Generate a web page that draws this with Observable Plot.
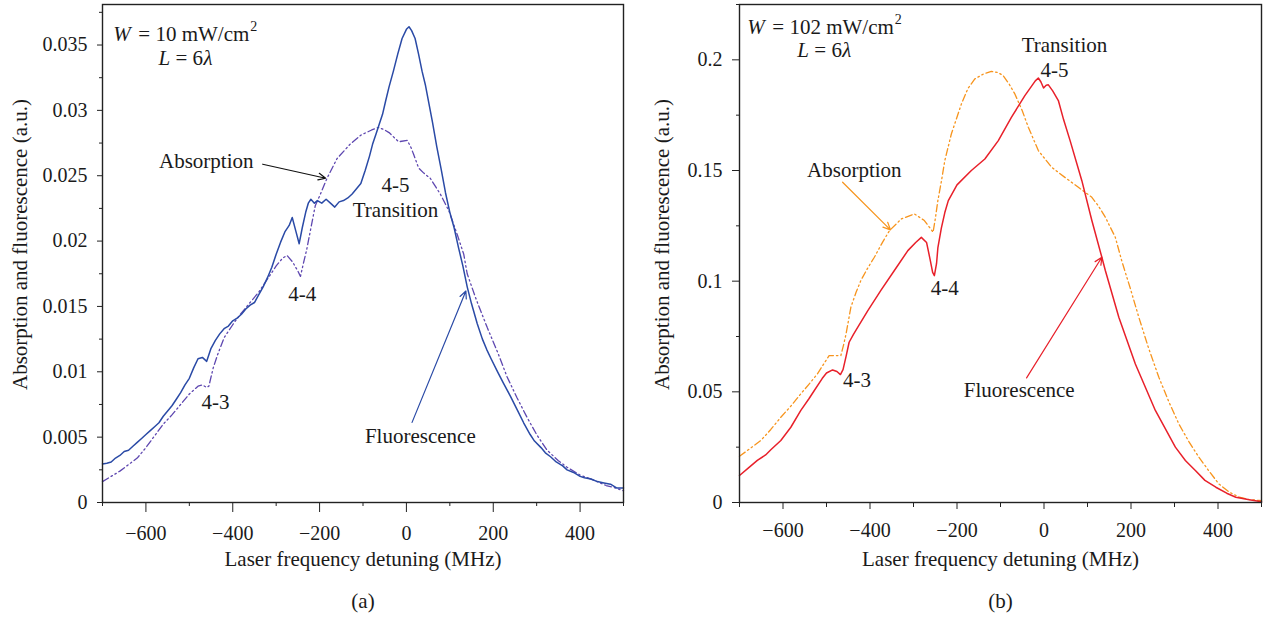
<!DOCTYPE html>
<html><head><meta charset="utf-8">
<script src="https://cdn.jsdelivr.net/npm/d3@7"></script>
<script src="https://cdn.jsdelivr.net/npm/@observablehq/plot@0.6"></script>
<style>
body{margin:0;background:#fff;}
#wrap{display:flex;width:1263px;height:619px;overflow:hidden;}
</style></head><body><div id="wrap"></div>
<script>
// ---------- Data: panel (a), W = 10 mW/cm2 ----------
const fluorA_x = [-700,-690,-680,-670,-660,-650,-640,-630,-620,-610,-600,-590,-580,-570,-560,-550,-540,-530,-520,-510,-500,-490,-480,-470,-460,-450,-440,-430,-420,-410,-400,-390,-380,-370,-360,-350,-340,-330,-320,-310,-300,-290,-280,-270,-263,-255,-247,-240,-232,-226,-220,-212,-205,-195,-185,-175,-165,-155,-145,-135,-125,-115,-105,-95,-85,-78,-70,-63,-55,-48,-40,-30,-20,-10,0,6,12,20,28,36,44,52,60,70,80,90,100,110,120,130,140,150,163,175,185,195,210,224,240,255,270,285,295,310,320,332,345,360,370,385,400,410,425,440,455,470,485,500];
const fluorA_y = [0.00295,0.0030,0.0031,0.0034,0.0036,0.0039,0.0040,0.0043,0.0046,0.0049,0.0052,0.0055,0.0058,0.0061,0.0066,0.0070,0.0074,0.0079,0.0084,0.0090,0.0095,0.0103,0.0110,0.0111,0.0108,0.0118,0.0124,0.0129,0.0133,0.0135,0.0139,0.0141,0.0144,0.0148,0.0151,0.0153,0.0159,0.0165,0.0172,0.0180,0.0190,0.0199,0.0207,0.0212,0.0218,0.0208,0.0198,0.0210,0.0222,0.0229,0.0232,0.0229,0.0231,0.0229,0.0232,0.0229,0.0226,0.0230,0.0231,0.0233,0.0236,0.0240,0.0244,0.0254,0.0265,0.0274,0.0282,0.0289,0.0297,0.0307,0.0318,0.0330,0.0343,0.0355,0.0362,0.0364,0.0361,0.0355,0.0343,0.0330,0.0319,0.0305,0.0291,0.0272,0.0255,0.0237,0.0222,0.0210,0.0195,0.0181,0.0165,0.0152,0.0137,0.0125,0.0117,0.0110,0.0100,0.0091,0.0081,0.0071,0.0061,0.0052,0.0047,0.0042,0.0038,0.0035,0.0031,0.0028,0.0025,0.0023,0.0020,0.0019,0.0018,0.0016,0.0015,0.0014,0.0011,0.0011];
const absA_x = [-700,-680,-660,-640,-620,-600,-580,-560,-540,-520,-500,-480,-470,-460,-455,-445,-435,-420,-400,-385,-360,-340,-320,-300,-285,-275,-262,-250,-244,-238,-230,-220,-210,-198,-183,-160,-130,-105,-80,-64,-50,-40,-18,2,10,17,28,40,55,78,98,117,132,140,160,186,210,232,255,278,300,324,350,370,400,432,460,482,500];
const absA_y = [0.0016,0.0020,0.0024,0.0029,0.0034,0.0042,0.0051,0.0060,0.0067,0.0075,0.0083,0.0089,0.0090,0.0088,0.0089,0.0103,0.0113,0.0126,0.0136,0.0143,0.0153,0.0161,0.0171,0.0181,0.0187,0.0189,0.0184,0.0177,0.0173,0.0182,0.0193,0.0210,0.0227,0.0236,0.0248,0.0263,0.0274,0.0281,0.0285,0.0287,0.0285,0.0283,0.0276,0.0277,0.0272,0.0266,0.0256,0.0252,0.0248,0.0236,0.0223,0.0205,0.0190,0.0175,0.0156,0.0134,0.0115,0.0096,0.0080,0.0065,0.0052,0.0040,0.0032,0.0027,0.0021,0.0017,0.0013,0.0011,0.0009];

// ---------- Data: panel (b), W = 102 mW/cm2 ----------
const fluorB_x = [-700,-680,-659,-640,-628,-605,-582,-559,-540,-528,-510,-500,-486,-476,-468,-462,-455,-448,-438,-428,-405,-375,-344,-313,-295,-282,-270,-262,-256,-252,-247,-244,-236,-228,-220,-200,-167,-136,-105,-75,-44,-20,-13,-7,-1,5,10,20,33,45,60,87,110,133,141,172,210,256,302,325,348,370,395,420,441,472,500];
const fluorB_y = [0.0122,0.0155,0.0190,0.0215,0.0238,0.0280,0.0340,0.0416,0.0470,0.0506,0.0560,0.0585,0.0599,0.0592,0.0578,0.0600,0.0660,0.0724,0.0760,0.0792,0.0867,0.0958,0.1048,0.1138,0.1175,0.1198,0.1175,0.1100,0.1040,0.1025,0.1080,0.1150,0.1240,0.1310,0.1364,0.1435,0.1500,0.1552,0.1635,0.1740,0.1838,0.1905,0.1918,0.1900,0.1873,0.1885,0.1887,0.1860,0.1816,0.1730,0.1635,0.1454,0.1274,0.1108,0.1048,0.0837,0.0626,0.0416,0.0250,0.0190,0.0145,0.0100,0.0069,0.0042,0.0024,0.0012,0.0003];
const absB_x = [-700,-675,-651,-628,-605,-580,-559,-540,-521,-505,-494,-480,-467,-461,-455,-444,-432,-421,-405,-390,-370,-355,-328,-298,-275,-262,-255,-250,-244,-236,-228,-213,-190,-175,-159,-140,-121,-105,-94,-80,-67,-50,-36,-13,18,48,79,110,125,141,164,179,198,218,240,264,287,310,333,356,380,402,425,449,470,495,500];
const absB_y = [0.0209,0.0245,0.0280,0.0330,0.0385,0.0440,0.0491,0.0535,0.0581,0.0630,0.0664,0.0664,0.0664,0.0710,0.0762,0.0882,0.0950,0.1003,0.1060,0.1108,0.1180,0.1229,0.1281,0.1304,0.1274,0.1240,0.1221,0.1280,0.1364,0.1450,0.1545,0.1665,0.1800,0.1870,0.1914,0.1935,0.1948,0.1942,0.1929,0.1890,0.1846,0.1770,0.1695,0.1590,0.1514,0.1469,0.1424,0.1379,0.1340,0.1289,0.1198,0.1090,0.0970,0.0837,0.0700,0.0566,0.0455,0.0355,0.0275,0.0205,0.0140,0.0084,0.0048,0.0024,0.0014,0.0009,0.0008];

// ---------- Axis ticks ----------
const xDomain = [-700, 500];
const xMajor = [-600, -400, -200, 0, 200, 400];
const xMinor = [-700, -500, -300, -100, 100, 300, 500];
const yDomainA = [0, 0.0381];
const yMajorA = [0, 0.005, 0.01, 0.015, 0.02, 0.025, 0.03, 0.035];
const yMinorA = [0.0025, 0.0075, 0.0125, 0.0175, 0.0225, 0.0275, 0.0325, 0.0375];
const yDomainB = [0, 0.225];
const yMajorB = [0, 0.05, 0.1, 0.15, 0.2];
const yMinorB = [0.025, 0.075, 0.125, 0.175, 0.225];

// ---------- Text ----------
const xTitle = "Laser frequency detuning (MHz)";
const yTitle = "Absorption and fluorescence (a.u.)";
const captionA = "(a)", captionB = "(b)";
const labelsA = [
  {t: "4-3", x: -440, y: 0.0077},
  {t: "4-4", x: -240, y: 0.0159},
  {t: "4-5", x: -25, y: 0.0243},
  {t: "Transition", x: -25, y: 0.02235},
  {t: "Absorption", x: -461, y: 0.0261},
  {t: "Fluorescence", x: 32, y: 0.0051}
];
const arrowsA = [
  {x1: -331, y1: 0.02588, x2: -186, y2: 0.02481, c: "#111111"},
  {x1: 13, y1: 0.00613, x2: 137, y2: 0.01618, c: "#2a4aa6"}
];
const paramsA = {x: -675, y: 0.0358, w: "= 10 mW/cm", sup: "2", lx: -571, ly: 0.03397};
const labelsB = [
  {t: "4-3", x: -430, y: 0.0554},
  {t: "4-4", x: -228, y: 0.097},
  {t: "Transition", x: 47, y: 0.2065},
  {t: "4-5", x: 24, y: 0.1952},
  {t: "Absorption", x: -436, y: 0.150},
  {t: "Fluorescence", x: -57, y: 0.0506}
];
const arrowsB = [
  {x1: -463, y1: 0.1447, x2: -353, y2: 0.1232, c: "#f7941d"},
  {x1: -40, y1: 0.0563, x2: 133, y2: 0.1108, c: "#e8202a"}
];
const paramsB = {x: -682, y: 0.2145, w: "= 102 mW/cm", sup: "2", lx: -567, ly: 0.2042};

const FONT = "'Liberation Serif', 'DejaVu Serif', serif";
const TXT = "#1a1a1a";
const DASH = "7,3,1.5,3,1.5,3";
const FS = 21;

const ctx = document.createElement("canvas").getContext("2d");
function textWidth(s, size) { ctx.font = `${size}px 'Liberation Serif'`; return ctx.measureText(s).width; }

function series(xs, ys) { return xs.map((x, i) => ({x, y: ys[i]})); }
const fmtX = d => d < 0 ? "\u2212" + Math.abs(d) : String(d);
const fmtY = d => String(+d.toFixed(4));

function panel(cfg) {
  const supDx = 25 + textWidth(cfg.params.w, FS) + 1;
  return Plot.plot({
    width: cfg.width, height: 619,
    marginLeft: cfg.ml, marginRight: cfg.mr, marginTop: 4, marginBottom: 117,
    style: {fontFamily: FONT, fontSize: "20px", color: TXT, background: "#fff", overflow: "visible"},
    x: {domain: xDomain, label: null},
    y: {domain: cfg.yDomain, label: null},
    marks: [
      Plot.axisX(xMajor, {tickSize: cfg.xt, tickPadding: 13, tickFormat: fmtX, label: null, fontSize: 20, stroke: "#222"}),
      Plot.axisX(xMinor, {tickSize: cfg.xtm, tickFormat: () => "", label: null, stroke: "#222"}),
      Plot.axisY(cfg.yMajor, {tickSize: cfg.yt, tickPadding: 10, tickFormat: fmtY, label: null, fontSize: 20, stroke: "#222"}),
      Plot.axisY(cfg.yMinor, {tickSize: 3, tickFormat: () => "", label: null, stroke: "#222"}),
      Plot.line(series(cfg.absX, cfg.absY), {x: "x", y: "y", stroke: cfg.absColor, strokeWidth: 1.3, strokeDasharray: DASH}),
      Plot.line(series(cfg.flX, cfg.flY), {x: "x", y: "y", stroke: cfg.flColor, strokeWidth: 1.5}),
      Plot.frame({stroke: "#222", strokeWidth: 1.4}),
      Plot.arrow(cfg.arrows, {x1: "x1", y1: "y1", x2: "x2", y2: "y2", stroke: "c", strokeWidth: 1.2, headLength: 10, headAngle: 50}),
      Plot.text(cfg.labels, {x: "x", y: "y", text: "t", fontSize: FS, fill: TXT}),
      Plot.text([cfg.params], {x: "x", y: "y", text: () => "W", fontStyle: "italic", textAnchor: "start", fontSize: FS, fill: TXT}),
      Plot.text([cfg.params], {x: "x", y: "y", text: "w", dx: 25, textAnchor: "start", fontSize: FS, fill: TXT}),
      Plot.text([cfg.params], {x: "x", y: "y", text: "sup", dx: supDx, dy: -8, textAnchor: "start", fontSize: 14, fill: TXT}),
      Plot.text([cfg.params], {x: "lx", y: "ly", text: () => "L", fontStyle: "italic", textAnchor: "start", fontSize: FS, fill: TXT}),
      Plot.text([cfg.params], {x: "lx", y: "ly", text: () => "= 6", dx: 17, textAnchor: "start", fontSize: FS, fill: TXT}),
      Plot.text([cfg.params], {x: "lx", y: "ly", text: () => "\u03bb", dx: 45, fontStyle: "italic", textAnchor: "start", fontSize: FS, fill: TXT}),
      Plot.text([xTitle], {frameAnchor: "bottom", dy: 63, text: d => d, textAnchor: "middle", fontSize: FS, fill: TXT}),
      Plot.text([cfg.caption], {frameAnchor: "bottom", dy: 105, text: d => d, textAnchor: "middle", fontSize: FS, fill: TXT}),
      Plot.text([yTitle], {frameAnchor: "left", rotate: -90, dx: cfg.ytdx, dy: -9, text: d => d, textAnchor: "middle", fontSize: FS, fill: TXT})
    ]
  });
}

const wrap = document.getElementById("wrap");
wrap.append(panel({
  width: 631, ml: 102, mr: 8, yDomain: yDomainA, yMajor: yMajorA, yMinor: yMinorA,
  xt: 10, xtm: 4, yt: 5, ytdx: -82,
  absX: absA_x, absY: absA_y, flX: fluorA_x, flY: fluorA_y,
  absColor: "#5e47b0", flColor: "#2a4aa6",
  arrows: arrowsA, labels: labelsA, params: paramsA, caption: captionA
}));
wrap.append(panel({
  width: 632, ml: 108, mr: 2, yDomain: yDomainB, yMajor: yMajorB, yMinor: yMinorB,
  xt: 7, xtm: 5, yt: 7, ytdx: -77,
  absX: absB_x, absY: absB_y, flX: fluorB_x, flY: fluorB_y,
  absColor: "#f7941d", flColor: "#e8202a",
  arrows: arrowsB, labels: labelsB, params: paramsB, caption: captionB
}));
</script></body></html>
